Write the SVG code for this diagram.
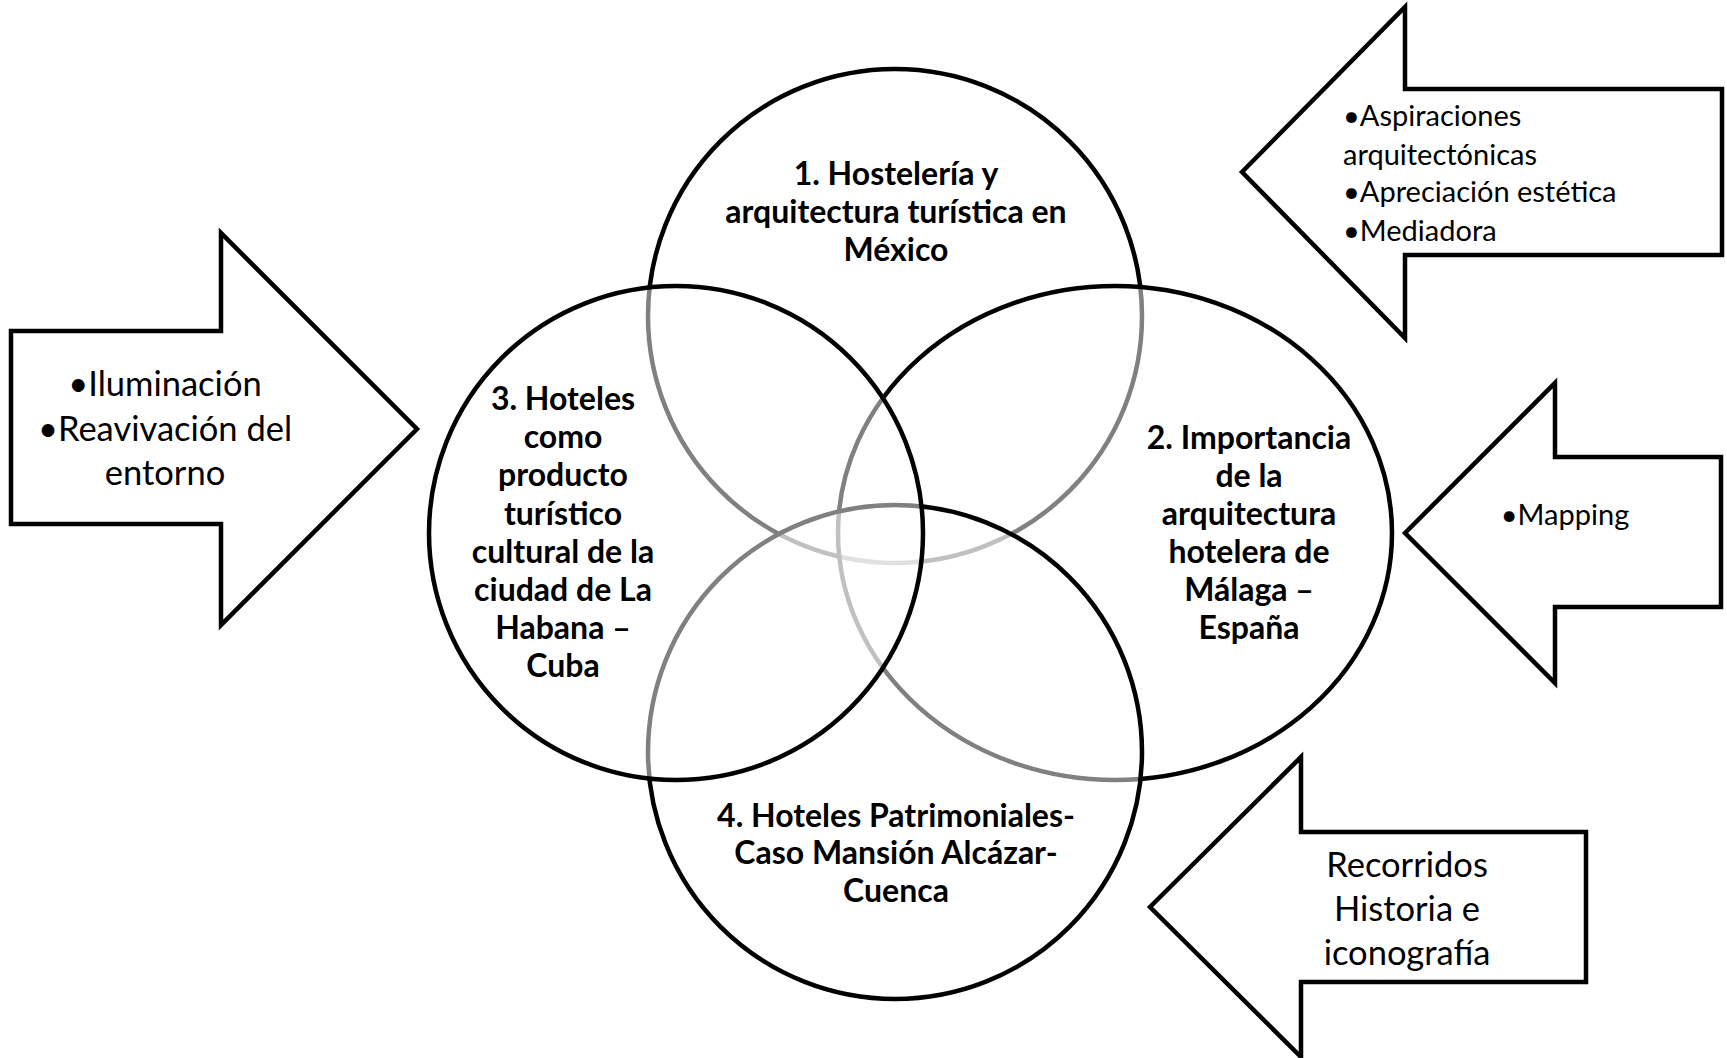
<svg xmlns="http://www.w3.org/2000/svg" width="1727" height="1058" viewBox="0 0 1727 1058">
<style>
.c{fill:#fff;fill-opacity:.5;stroke:#000;stroke-width:4.5}
.a{fill:#fff;stroke:#000;stroke-width:4.5;stroke-linejoin:miter}
.b{font-family:Lato,"Liberation Sans",sans-serif;font-weight:bold;font-size:32px;text-anchor:middle;fill:#000}
.r{font-family:Lato,"Liberation Sans",sans-serif;font-size:34.5px;text-anchor:middle;fill:#000}
.s{font-family:Lato,"Liberation Sans",sans-serif;font-size:29px;fill:#000}
</style>
<rect width="1727" height="1058" fill="#fff"/>
<g id="circle1">
<circle class="c" cx="895" cy="316" r="247"/>
<text class="b"><tspan x="896" y="185">1. Hostelería y</tspan><tspan x="896" y="223">arquitectura turística en</tspan><tspan x="896" y="261">México</tspan></text>
</g>
<g id="circle2">
<ellipse class="c" cx="1115" cy="533" rx="277" ry="247"/>
<text class="b"><tspan x="1249" y="449">2. Importancia</tspan><tspan x="1249" y="487">de la</tspan><tspan x="1249" y="525">arquitectura</tspan><tspan x="1249" y="563">hotelera de</tspan><tspan x="1249" y="601">Málaga –</tspan><tspan x="1249" y="639">España</tspan></text>
</g>
<g id="circle4">
<circle class="c" cx="895" cy="752" r="247"/>
<text class="b"><tspan x="896" y="827">4. Hoteles Patrimoniales-</tspan><tspan x="896" y="864">Caso Mansión Alcázar-</tspan><tspan x="896" y="902">Cuenca</tspan></text>
</g>
<g id="circle3">
<circle class="c" cx="676" cy="533" r="247"/>
<text class="b"><tspan x="563" y="410">3. Hoteles</tspan><tspan x="563" y="448">como</tspan><tspan x="563" y="486">producto</tspan><tspan x="563" y="525">turístico</tspan><tspan x="563" y="563">cultural de la</tspan><tspan x="563" y="601">ciudad de La</tspan><tspan x="563" y="639">Habana –</tspan><tspan x="563" y="677">Cuba</tspan></text>
</g>
<g id="arrow-left">
<polygon class="a" points="11,331 221,331 221,233 417,429 221,625 221,524 11,524"/>
<text class="r"><tspan x="165" y="396">•Iluminación</tspan><tspan x="165" y="441">•Reavivación del</tspan><tspan x="165" y="485">entorno</tspan></text>
</g>
<g id="arrow-top-right">
<polygon class="a" points="1242,172 1405,7 1405,89 1722,89 1722,255 1405,255 1405,338"/>
<text class="s"><tspan x="1343" y="126">•Aspiraciones</tspan><tspan x="1343" y="165">arquitectónicas</tspan><tspan x="1343" y="202">•Apreciación estética</tspan><tspan x="1343" y="241">•Mediadora</tspan></text>
</g>
<g id="arrow-mapping">
<polygon class="a" points="1405,533 1555,383 1555,457 1721,457 1721,607 1555,607 1555,683"/>
<text class="s" text-anchor="middle"><tspan x="1565" y="525">•Mapping</tspan></text>
</g>
<g id="arrow-bottom">
<polygon class="a" points="1150,907 1301,757 1301,832 1586,832 1586,982 1301,982 1301,1057"/>
<text class="r"><tspan x="1407" y="877">Recorridos</tspan><tspan x="1407" y="921">Historia e</tspan><tspan x="1407" y="965">iconografía</tspan></text>
</g>
<g id="connectors"/>
</svg>
